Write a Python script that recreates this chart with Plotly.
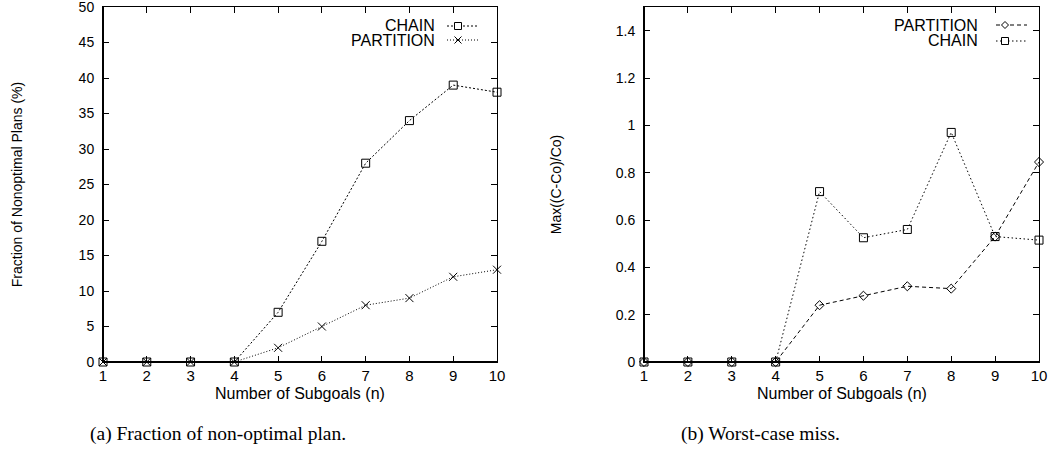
import plotly.graph_objects as go

# ---------------- data ----------------
n_subgoals = [1, 2, 3, 4, 5, 6, 7, 8, 9, 10]
frac_chain = [0, 0, 0, 0, 7, 17, 28, 34, 39, 38]
frac_partition = [0, 0, 0, 0, 2, 5, 8, 9, 12, 13]
miss_partition = [0, 0, 0, 0, 0.24, 0.28, 0.32, 0.31, 0.53, 0.845]
miss_chain = [0, 0, 0, 0, 0.72, 0.525, 0.56, 0.97, 0.53, 0.515]
left_yticks = [0, 5, 10, 15, 20, 25, 30, 35, 40, 45, 50]
right_yticks = [0, 0.2, 0.4, 0.6, 0.8, 1, 1.2, 1.4]
x_title = "Number of Subgoals (n)"
left_ytitle = "Fraction of Nonoptimal Plans (%)"
right_ytitle = "Max((C-Co)/Co)"
caption_a = "(a) Fraction of non-optimal plan."
caption_b = "(b) Worst-case miss."

W, H = 1058, 469
SANS = "Liberation Sans, Arial, Helvetica, sans-serif"
SERIF = "Liberation Serif, Times New Roman, serif"


def px(x):
    return x / W


def py(y):
    return 1 - y / H


fig = go.Figure()

line_w = 1
fig.add_trace(go.Scatter(
    x=n_subgoals, y=frac_chain, name="CHAIN", mode="lines+markers",
    line=dict(color="black", width=line_w, dash="2px,2px"),
    marker=dict(symbol="square-open", size=8, color="black", line=dict(width=1)),
    cliponaxis=False, showlegend=False, xaxis="x", yaxis="y"))
fig.add_trace(go.Scatter(
    x=n_subgoals, y=frac_partition, name="PARTITION", mode="lines+markers",
    line=dict(color="black", width=line_w, dash="1px,2px"),
    marker=dict(symbol="x-thin-open", size=8, color="black", line=dict(width=1)),
    cliponaxis=False, showlegend=False, xaxis="x", yaxis="y"))
fig.add_trace(go.Scatter(
    x=n_subgoals, y=miss_partition, name="PARTITION", mode="lines+markers",
    line=dict(color="black", width=line_w, dash="4px,3px"),
    marker=dict(symbol="diamond-open", size=7, color="black", line=dict(width=1)),
    cliponaxis=False, showlegend=False, xaxis="x2", yaxis="y2"))
fig.add_trace(go.Scatter(
    x=n_subgoals, y=miss_chain, name="CHAIN", mode="lines+markers",
    line=dict(color="black", width=line_w, dash="1.5px,2.5px"),
    marker=dict(symbol="square-open", size=8, color="black", line=dict(width=1)),
    cliponaxis=False, showlegend=False, xaxis="x2", yaxis="y2"))

xtickfont = dict(family=SANS, size=15, color="black")
ytickfont = dict(family=SANS, size=14, color="black")
common_x = dict(range=[1, 10], tickvals=n_subgoals, ticks="inside", ticklen=6,
                tickcolor="black", showline=True, linecolor="black", linewidth=1,
                mirror="ticks", showgrid=False, zeroline=False, tickfont=xtickfont,
                ticklabelstandoff=0, automargin=False, ticklabeloverflow="allow")
common_y = dict(ticks="inside", ticklen=6, tickcolor="black", showline=True,
                linecolor="black", linewidth=1, mirror="ticks", showgrid=False,
                zeroline=False, tickfont=ytickfont, ticklabelstandoff=5,
                automargin=False, ticklabeloverflow="allow")

ydom = [py(362), py(7)]
fig.update_layout(
    template="none",
    width=W, height=H, margin=dict(l=0, r=0, t=0, b=0, pad=0),
    paper_bgcolor="white", plot_bgcolor="white", showlegend=False,
    xaxis=dict(domain=[px(103), px(497)], anchor="y", **common_x),
    yaxis=dict(domain=ydom, anchor="x", range=[0, 50], tickvals=left_yticks,
               title=dict(text=left_ytitle, font=dict(family=SANS, size=14, color="black"),
                          standoff=52),
               **common_y),
    xaxis2=dict(domain=[px(644), px(1039)], anchor="y2", **common_x),
    yaxis2=dict(domain=ydom, anchor="x2", range=[0, 1.5], tickvals=right_yticks,
                title=dict(text=right_ytitle, font=dict(family=SANS, size=14, color="black"),
                           standoff=50),
                **common_y),
)

# thicker left / bottom border lines
shapes = []
for xr, yr in (("x domain", "y domain"), ("x2 domain", "y2 domain")):
    shapes.append(dict(type="line", xref=xr, yref=yr, x0=0, x1=0, y0=0, y1=1,
                       line=dict(color="black", width=2)))
    shapes.append(dict(type="line", xref=xr, yref=yr, x0=0, x1=1, y0=0, y1=0,
                       line=dict(color="black", width=2)))

annotations = []

# x axis titles (placed as annotations centred under each plot)
for xr in ("x domain", "x2 domain"):
    annotations.append(dict(text=x_title, xref=xr, yref="paper", x=0.5, y=py(393),
                            xanchor="center", yanchor="middle", showarrow=False,
                            font=dict(family=SANS, size=16, color="black")))


def legend_entry(label, ycen, text_right, s0, s1, mpos, dash, symbol):
    annotations.append(dict(text=label, xref="paper", yref="paper", x=px(text_right),
                            y=py(ycen), xanchor="right", yanchor="middle",
                            showarrow=False, font=dict(family=SANS, size=16, color="black")))
    shapes.append(dict(type="line", xref="paper", yref="paper", x0=px(s0), x1=px(s1),
                       y0=py(ycen), y1=py(ycen), line=dict(color="black", width=1, dash=dash)))
    r = 3.5
    if symbol == "square":
        shapes.append(dict(type="rect", xref="paper", yref="paper",
                           x0=px(mpos - r), x1=px(mpos + r), y0=py(ycen + r), y1=py(ycen - r),
                           line=dict(color="black", width=1), fillcolor="white"))
    elif symbol == "x":
        shapes.append(dict(type="line", xref="paper", yref="paper",
                           x0=px(mpos - r), x1=px(mpos + r), y0=py(ycen + r), y1=py(ycen - r),
                           line=dict(color="black", width=1)))
        shapes.append(dict(type="line", xref="paper", yref="paper",
                           x0=px(mpos - r), x1=px(mpos + r), y0=py(ycen - r), y1=py(ycen + r),
                           line=dict(color="black", width=1)))
    elif symbol == "diamond":
        path = "M {} {} L {} {} L {} {} L {} {} Z".format(
            px(mpos - r), py(ycen), px(mpos), py(ycen - r),
            px(mpos + r), py(ycen), px(mpos), py(ycen + r))
        shapes.append(dict(type="path", xref="paper", yref="paper", path=path,
                           line=dict(color="black", width=1), fillcolor="white"))


legend_entry("CHAIN", 26, 437, 447, 478, 458, "2px,2px", "square")
legend_entry("PARTITION", 40, 437, 447, 478, 458, "1px,2px", "x")
legend_entry("PARTITION", 25, 980, 996, 1027, 1005, "4px,3px", "diamond")
legend_entry("CHAIN", 41, 980, 996, 1027, 1005, "1.5px,2.5px", "square")

annotations.append(dict(text=caption_a, xref="paper", yref="paper", x=px(88), y=py(434),
                        xanchor="left", yanchor="middle", showarrow=False,
                        font=dict(family=SERIF, size=19.5, color="black")))
annotations.append(dict(text=caption_b, xref="paper", yref="paper", x=px(679), y=py(434),
                        xanchor="left", yanchor="middle", showarrow=False,
                        font=dict(family=SERIF, size=19.5, color="black")))

fig.update_layout(shapes=shapes, annotations=annotations)
fig.write_html("out.html", config={"displayModeBar": False},
               post_script="document.body.style.margin='0';")
